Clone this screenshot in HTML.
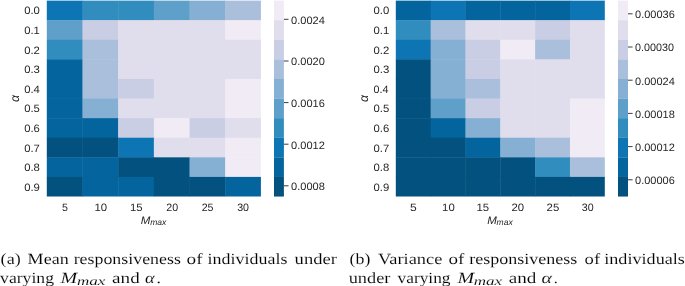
<!DOCTYPE html>
<html><head><meta charset="utf-8"><style>
html,body{margin:0;padding:0;background:#fff;}
body{width:685px;height:286px;overflow:hidden;position:relative;}
svg{position:absolute;left:0;top:0;will-change:transform;text-rendering:geometricPrecision;}
.t{font-family:"Liberation Sans",sans-serif;font-size:10.7px;fill:#262626;}
.it{font-style:italic;}
.al{font-size:12.4px;}
.sub{font-size:8.4px;}
.mm{font-size:10.9px;}
.c{font-family:"Liberation Serif",serif;font-size:15.6px;fill:#000;stroke:#fff;stroke-width:0.1px;}
.ci{font-style:italic;}
.cs{font-size:12px;}
</style></head><body>
<svg width="685" height="286" viewBox="0 0 685 286">
<rect x="46.80" y="0.60" width="36.08" height="19.99" fill="#0d75b3"/>
<rect x="82.48" y="0.60" width="36.08" height="19.99" fill="#328dbf"/>
<rect x="118.17" y="0.60" width="36.08" height="19.99" fill="#328dbf"/>
<rect x="153.85" y="0.60" width="36.08" height="19.99" fill="#5ea0ca"/>
<rect x="189.53" y="0.60" width="36.08" height="19.99" fill="#86b0d3"/>
<rect x="225.22" y="0.60" width="35.68" height="19.99" fill="#a9bfdc"/>
<rect x="46.80" y="20.19" width="36.08" height="19.99" fill="#5ea0ca"/>
<rect x="82.48" y="20.19" width="36.08" height="19.99" fill="#c9cee4"/>
<rect x="118.17" y="20.19" width="36.08" height="19.99" fill="#e0dded"/>
<rect x="153.85" y="20.19" width="36.08" height="19.99" fill="#e0dded"/>
<rect x="189.53" y="20.19" width="36.08" height="19.99" fill="#e0dded"/>
<rect x="225.22" y="20.19" width="35.68" height="19.99" fill="#f1ebf5"/>
<rect x="46.80" y="39.78" width="36.08" height="19.99" fill="#328dbf"/>
<rect x="82.48" y="39.78" width="36.08" height="19.99" fill="#a9bfdc"/>
<rect x="118.17" y="39.78" width="36.08" height="19.99" fill="#e0dded"/>
<rect x="153.85" y="39.78" width="36.08" height="19.99" fill="#e0dded"/>
<rect x="189.53" y="39.78" width="36.08" height="19.99" fill="#e0dded"/>
<rect x="225.22" y="39.78" width="35.68" height="19.99" fill="#e0dded"/>
<rect x="46.80" y="59.37" width="36.08" height="19.99" fill="#04649d"/>
<rect x="82.48" y="59.37" width="36.08" height="19.99" fill="#a9bfdc"/>
<rect x="118.17" y="59.37" width="36.08" height="19.99" fill="#e0dded"/>
<rect x="153.85" y="59.37" width="36.08" height="19.99" fill="#e0dded"/>
<rect x="189.53" y="59.37" width="36.08" height="19.99" fill="#e0dded"/>
<rect x="225.22" y="59.37" width="35.68" height="19.99" fill="#e0dded"/>
<rect x="46.80" y="78.96" width="36.08" height="19.99" fill="#04649d"/>
<rect x="82.48" y="78.96" width="36.08" height="19.99" fill="#a9bfdc"/>
<rect x="118.17" y="78.96" width="36.08" height="19.99" fill="#c9cee4"/>
<rect x="153.85" y="78.96" width="36.08" height="19.99" fill="#e0dded"/>
<rect x="189.53" y="78.96" width="36.08" height="19.99" fill="#e0dded"/>
<rect x="225.22" y="78.96" width="35.68" height="19.99" fill="#f1ebf5"/>
<rect x="46.80" y="98.55" width="36.08" height="19.99" fill="#04649d"/>
<rect x="82.48" y="98.55" width="36.08" height="19.99" fill="#86b0d3"/>
<rect x="118.17" y="98.55" width="36.08" height="19.99" fill="#e0dded"/>
<rect x="153.85" y="98.55" width="36.08" height="19.99" fill="#e0dded"/>
<rect x="189.53" y="98.55" width="36.08" height="19.99" fill="#e0dded"/>
<rect x="225.22" y="98.55" width="35.68" height="19.99" fill="#f1ebf5"/>
<rect x="46.80" y="118.14" width="36.08" height="19.99" fill="#04649d"/>
<rect x="82.48" y="118.14" width="36.08" height="19.99" fill="#04649d"/>
<rect x="118.17" y="118.14" width="36.08" height="19.99" fill="#c9cee4"/>
<rect x="153.85" y="118.14" width="36.08" height="19.99" fill="#f1ebf5"/>
<rect x="189.53" y="118.14" width="36.08" height="19.99" fill="#c9cee4"/>
<rect x="225.22" y="118.14" width="35.68" height="19.99" fill="#e0dded"/>
<rect x="46.80" y="137.73" width="36.08" height="19.99" fill="#03517e"/>
<rect x="82.48" y="137.73" width="36.08" height="19.99" fill="#03517e"/>
<rect x="118.17" y="137.73" width="36.08" height="19.99" fill="#0d75b3"/>
<rect x="153.85" y="137.73" width="36.08" height="19.99" fill="#e0dded"/>
<rect x="189.53" y="137.73" width="36.08" height="19.99" fill="#e0dded"/>
<rect x="225.22" y="137.73" width="35.68" height="19.99" fill="#f1ebf5"/>
<rect x="46.80" y="157.32" width="36.08" height="19.99" fill="#04649d"/>
<rect x="82.48" y="157.32" width="36.08" height="19.99" fill="#04649d"/>
<rect x="118.17" y="157.32" width="36.08" height="19.99" fill="#03517e"/>
<rect x="153.85" y="157.32" width="36.08" height="19.99" fill="#03517e"/>
<rect x="189.53" y="157.32" width="36.08" height="19.99" fill="#86b0d3"/>
<rect x="225.22" y="157.32" width="35.68" height="19.99" fill="#f1ebf5"/>
<rect x="46.80" y="176.91" width="36.08" height="19.59" fill="#03517e"/>
<rect x="82.48" y="176.91" width="36.08" height="19.59" fill="#04649d"/>
<rect x="118.17" y="176.91" width="36.08" height="19.59" fill="#04649d"/>
<rect x="153.85" y="176.91" width="36.08" height="19.59" fill="#03517e"/>
<rect x="189.53" y="176.91" width="36.08" height="19.59" fill="#03517e"/>
<rect x="225.22" y="176.91" width="35.68" height="19.59" fill="#04649d"/>
<text transform="translate(19.00,98.55) rotate(-90)" text-anchor="middle" class="t it al" y="0">α</text>
<rect x="274.0" y="0.60" width="9.90" height="19.64" fill="#f1ebf5"/>
<rect x="274.0" y="20.19" width="9.90" height="19.64" fill="#e0dded"/>
<rect x="274.0" y="39.78" width="9.90" height="19.64" fill="#c9cee4"/>
<rect x="274.0" y="59.37" width="9.90" height="19.64" fill="#a9bfdc"/>
<rect x="274.0" y="78.96" width="9.90" height="19.64" fill="#86b0d3"/>
<rect x="274.0" y="98.55" width="9.90" height="19.64" fill="#5ea0ca"/>
<rect x="274.0" y="118.14" width="9.90" height="19.64" fill="#328dbf"/>
<rect x="274.0" y="137.73" width="9.90" height="19.64" fill="#0d75b3"/>
<rect x="274.0" y="157.32" width="9.90" height="19.64" fill="#04649d"/>
<rect x="274.0" y="176.91" width="9.90" height="19.64" fill="#03517e"/>
<line x1="283.9" x2="288.5" y1="19.3" y2="19.3" stroke="#262626" stroke-width="0.9"/>
<line x1="283.9" x2="288.5" y1="61.0" y2="61.0" stroke="#262626" stroke-width="0.9"/>
<line x1="283.9" x2="288.5" y1="102.6" y2="102.6" stroke="#262626" stroke-width="0.9"/>
<line x1="283.9" x2="288.5" y1="144.2" y2="144.2" stroke="#262626" stroke-width="0.9"/>
<line x1="283.9" x2="288.5" y1="185.8" y2="185.8" stroke="#262626" stroke-width="0.9"/>
<rect x="395.80" y="0.60" width="35.23" height="19.99" fill="#04649d"/>
<rect x="430.63" y="0.60" width="35.23" height="19.99" fill="#0d75b3"/>
<rect x="465.47" y="0.60" width="35.23" height="19.99" fill="#04649d"/>
<rect x="500.30" y="0.60" width="35.23" height="19.99" fill="#04649d"/>
<rect x="535.13" y="0.60" width="35.23" height="19.99" fill="#04649d"/>
<rect x="569.97" y="0.60" width="34.83" height="19.99" fill="#0d75b3"/>
<rect x="395.80" y="20.19" width="35.23" height="19.99" fill="#328dbf"/>
<rect x="430.63" y="20.19" width="35.23" height="19.99" fill="#a9bfdc"/>
<rect x="465.47" y="20.19" width="35.23" height="19.99" fill="#e0dded"/>
<rect x="500.30" y="20.19" width="35.23" height="19.99" fill="#e0dded"/>
<rect x="535.13" y="20.19" width="35.23" height="19.99" fill="#c9cee4"/>
<rect x="569.97" y="20.19" width="34.83" height="19.99" fill="#e0dded"/>
<rect x="395.80" y="39.78" width="35.23" height="19.99" fill="#0d75b3"/>
<rect x="430.63" y="39.78" width="35.23" height="19.99" fill="#86b0d3"/>
<rect x="465.47" y="39.78" width="35.23" height="19.99" fill="#c9cee4"/>
<rect x="500.30" y="39.78" width="35.23" height="19.99" fill="#f1ebf5"/>
<rect x="535.13" y="39.78" width="35.23" height="19.99" fill="#a9bfdc"/>
<rect x="569.97" y="39.78" width="34.83" height="19.99" fill="#e0dded"/>
<rect x="395.80" y="59.37" width="35.23" height="19.99" fill="#03517e"/>
<rect x="430.63" y="59.37" width="35.23" height="19.99" fill="#86b0d3"/>
<rect x="465.47" y="59.37" width="35.23" height="19.99" fill="#c9cee4"/>
<rect x="500.30" y="59.37" width="35.23" height="19.99" fill="#e0dded"/>
<rect x="535.13" y="59.37" width="35.23" height="19.99" fill="#e0dded"/>
<rect x="569.97" y="59.37" width="34.83" height="19.99" fill="#e0dded"/>
<rect x="395.80" y="78.96" width="35.23" height="19.99" fill="#03517e"/>
<rect x="430.63" y="78.96" width="35.23" height="19.99" fill="#86b0d3"/>
<rect x="465.47" y="78.96" width="35.23" height="19.99" fill="#a9bfdc"/>
<rect x="500.30" y="78.96" width="35.23" height="19.99" fill="#e0dded"/>
<rect x="535.13" y="78.96" width="35.23" height="19.99" fill="#e0dded"/>
<rect x="569.97" y="78.96" width="34.83" height="19.99" fill="#e0dded"/>
<rect x="395.80" y="98.55" width="35.23" height="19.99" fill="#03517e"/>
<rect x="430.63" y="98.55" width="35.23" height="19.99" fill="#5ea0ca"/>
<rect x="465.47" y="98.55" width="35.23" height="19.99" fill="#c9cee4"/>
<rect x="500.30" y="98.55" width="35.23" height="19.99" fill="#e0dded"/>
<rect x="535.13" y="98.55" width="35.23" height="19.99" fill="#e0dded"/>
<rect x="569.97" y="98.55" width="34.83" height="19.99" fill="#f1ebf5"/>
<rect x="395.80" y="118.14" width="35.23" height="19.99" fill="#03517e"/>
<rect x="430.63" y="118.14" width="35.23" height="19.99" fill="#04649d"/>
<rect x="465.47" y="118.14" width="35.23" height="19.99" fill="#86b0d3"/>
<rect x="500.30" y="118.14" width="35.23" height="19.99" fill="#e0dded"/>
<rect x="535.13" y="118.14" width="35.23" height="19.99" fill="#e0dded"/>
<rect x="569.97" y="118.14" width="34.83" height="19.99" fill="#f1ebf5"/>
<rect x="395.80" y="137.73" width="35.23" height="19.99" fill="#03517e"/>
<rect x="430.63" y="137.73" width="35.23" height="19.99" fill="#03517e"/>
<rect x="465.47" y="137.73" width="35.23" height="19.99" fill="#04649d"/>
<rect x="500.30" y="137.73" width="35.23" height="19.99" fill="#86b0d3"/>
<rect x="535.13" y="137.73" width="35.23" height="19.99" fill="#a9bfdc"/>
<rect x="569.97" y="137.73" width="34.83" height="19.99" fill="#f1ebf5"/>
<rect x="395.80" y="157.32" width="35.23" height="19.99" fill="#03517e"/>
<rect x="430.63" y="157.32" width="35.23" height="19.99" fill="#03517e"/>
<rect x="465.47" y="157.32" width="35.23" height="19.99" fill="#03517e"/>
<rect x="500.30" y="157.32" width="35.23" height="19.99" fill="#03517e"/>
<rect x="535.13" y="157.32" width="35.23" height="19.99" fill="#328dbf"/>
<rect x="569.97" y="157.32" width="34.83" height="19.99" fill="#a9bfdc"/>
<rect x="395.80" y="176.91" width="35.23" height="19.59" fill="#03517e"/>
<rect x="430.63" y="176.91" width="35.23" height="19.59" fill="#03517e"/>
<rect x="465.47" y="176.91" width="35.23" height="19.59" fill="#03517e"/>
<rect x="500.30" y="176.91" width="35.23" height="19.59" fill="#03517e"/>
<rect x="535.13" y="176.91" width="35.23" height="19.59" fill="#03517e"/>
<rect x="569.97" y="176.91" width="34.83" height="19.59" fill="#03517e"/>
<text transform="translate(368.00,98.55) rotate(-90)" text-anchor="middle" class="t it al" y="0">α</text>
<rect x="618.0" y="0.60" width="10.00" height="19.64" fill="#f1ebf5"/>
<rect x="618.0" y="20.19" width="10.00" height="19.64" fill="#e0dded"/>
<rect x="618.0" y="39.78" width="10.00" height="19.64" fill="#c9cee4"/>
<rect x="618.0" y="59.37" width="10.00" height="19.64" fill="#a9bfdc"/>
<rect x="618.0" y="78.96" width="10.00" height="19.64" fill="#86b0d3"/>
<rect x="618.0" y="98.55" width="10.00" height="19.64" fill="#5ea0ca"/>
<rect x="618.0" y="118.14" width="10.00" height="19.64" fill="#328dbf"/>
<rect x="618.0" y="137.73" width="10.00" height="19.64" fill="#0d75b3"/>
<rect x="618.0" y="157.32" width="10.00" height="19.64" fill="#04649d"/>
<rect x="618.0" y="176.91" width="10.00" height="19.64" fill="#03517e"/>
<line x1="628.0" x2="632.6" y1="13.8" y2="13.8" stroke="#262626" stroke-width="0.9"/>
<line x1="628.0" x2="632.6" y1="47.0" y2="47.0" stroke="#262626" stroke-width="0.9"/>
<line x1="628.0" x2="632.6" y1="80.2" y2="80.2" stroke="#262626" stroke-width="0.9"/>
<line x1="628.0" x2="632.6" y1="113.4" y2="113.4" stroke="#262626" stroke-width="0.9"/>
<line x1="628.0" x2="632.6" y1="146.6" y2="146.6" stroke="#262626" stroke-width="0.9"/>
<line x1="628.0" x2="632.6" y1="179.8" y2="179.8" stroke="#262626" stroke-width="0.9"/>
<text class="c" x="0.64" y="263.60" textLength="20.14" lengthAdjust="spacingAndGlyphs">(a)</text>
<text class="c" x="27.60" y="263.60" textLength="41.10" lengthAdjust="spacingAndGlyphs">Mean</text>
<text class="c" x="73.68" y="263.60" textLength="107.18" lengthAdjust="spacingAndGlyphs">responsiveness</text>
<text class="c" x="186.60" y="263.60" textLength="16.00" lengthAdjust="spacingAndGlyphs">of</text>
<text class="c" x="207.60" y="263.60" textLength="79.80" lengthAdjust="spacingAndGlyphs">individuals</text>
<text class="c" x="294.60" y="263.60" textLength="42.38" lengthAdjust="spacingAndGlyphs">under</text>
<text class="c" x="349.60" y="263.60" textLength="20.76" lengthAdjust="spacingAndGlyphs">(b)</text>
<text class="c" x="378.10" y="263.60" textLength="64.26" lengthAdjust="spacingAndGlyphs">Variance</text>
<text class="c" x="448.64" y="263.60" textLength="15.84" lengthAdjust="spacingAndGlyphs">of</text>
<text class="c" x="469.26" y="263.60" textLength="108.14" lengthAdjust="spacingAndGlyphs">responsiveness</text>
<text class="c" x="584.60" y="263.60" textLength="15.50" lengthAdjust="spacingAndGlyphs">of</text>
<text class="c" x="604.26" y="263.60" textLength="80.60" lengthAdjust="spacingAndGlyphs">individuals</text>
<text class="c" x="0.14" y="282.60" textLength="53.84" lengthAdjust="spacingAndGlyphs">varying</text>
<text class="c ci" x="60.50" y="282.60" textLength="16.70" lengthAdjust="spacingAndGlyphs">M</text>
<text class="c ci cs" x="76.90" y="284.80" textLength="28.40" lengthAdjust="spacingAndGlyphs">max</text>
<text class="c" x="112.14" y="282.60" textLength="27.64" lengthAdjust="spacingAndGlyphs">and</text>
<text class="c ci" x="145.02" y="282.60" textLength="9.58" lengthAdjust="spacingAndGlyphs">α</text>
<text class="c" x="156.30" y="282.60" textLength="4.90" lengthAdjust="spacingAndGlyphs">.</text>
<text class="c" x="397.52" y="282.60" textLength="53.04" lengthAdjust="spacingAndGlyphs">varying</text>
<text class="c ci" x="457.40" y="282.60" textLength="16.70" lengthAdjust="spacingAndGlyphs">M</text>
<text class="c ci cs" x="473.80" y="284.80" textLength="28.40" lengthAdjust="spacingAndGlyphs">max</text>
<text class="c" x="508.72" y="282.60" textLength="27.64" lengthAdjust="spacingAndGlyphs">and</text>
<text class="c ci" x="541.60" y="282.60" textLength="10.38" lengthAdjust="spacingAndGlyphs">α</text>
<text class="c" x="553.68" y="282.60" textLength="4.10" lengthAdjust="spacingAndGlyphs">.</text>
<text class="c" x="348.68" y="282.60" textLength="41.76" lengthAdjust="spacingAndGlyphs">under</text>
<text class="t" x="24.18" y="14.49" textLength="15.72" lengthAdjust="spacingAndGlyphs">0.0</text>
<text class="t" x="24.18" y="34.09" textLength="15.72" lengthAdjust="spacingAndGlyphs">0.1</text>
<text class="t" x="24.18" y="53.68" textLength="15.72" lengthAdjust="spacingAndGlyphs">0.2</text>
<text class="t" x="24.18" y="73.26" textLength="15.72" lengthAdjust="spacingAndGlyphs">0.3</text>
<text class="t" x="24.18" y="92.85" textLength="15.72" lengthAdjust="spacingAndGlyphs">0.4</text>
<text class="t" x="24.18" y="112.44" textLength="15.72" lengthAdjust="spacingAndGlyphs">0.5</text>
<text class="t" x="24.18" y="132.03" textLength="15.72" lengthAdjust="spacingAndGlyphs">0.6</text>
<text class="t" x="24.18" y="151.62" textLength="15.72" lengthAdjust="spacingAndGlyphs">0.7</text>
<text class="t" x="24.18" y="171.21" textLength="15.72" lengthAdjust="spacingAndGlyphs">0.8</text>
<text class="t" x="24.18" y="190.80" textLength="15.72" lengthAdjust="spacingAndGlyphs">0.9</text>
<text class="t" x="61.98" y="211.40" textLength="5.92" lengthAdjust="spacingAndGlyphs">5</text>
<text class="t" x="94.48" y="211.40" textLength="12.64" lengthAdjust="spacingAndGlyphs">10</text>
<text class="t" x="129.96" y="211.40" textLength="12.64" lengthAdjust="spacingAndGlyphs">15</text>
<text class="t" x="166.23" y="211.40" textLength="11.84" lengthAdjust="spacingAndGlyphs">20</text>
<text class="t" x="201.70" y="211.40" textLength="11.84" lengthAdjust="spacingAndGlyphs">25</text>
<text class="t" x="237.17" y="211.40" textLength="11.84" lengthAdjust="spacingAndGlyphs">30</text>
<text class="t it mm" x="140.75" y="223.70" textLength="9.60" lengthAdjust="spacingAndGlyphs">M</text>
<text class="t it sub" x="150.15" y="225.30" textLength="16.10" lengthAdjust="spacingAndGlyphs">max</text>
<text class="t" x="291.10" y="23.60" textLength="33.76" lengthAdjust="spacingAndGlyphs">0.0024</text>
<text class="t" x="291.10" y="65.30" textLength="33.76" lengthAdjust="spacingAndGlyphs">0.0020</text>
<text class="t" x="291.10" y="106.90" textLength="33.76" lengthAdjust="spacingAndGlyphs">0.0016</text>
<text class="t" x="291.10" y="148.50" textLength="33.76" lengthAdjust="spacingAndGlyphs">0.0012</text>
<text class="t" x="291.10" y="190.10" textLength="33.76" lengthAdjust="spacingAndGlyphs">0.0008</text>
<text class="t" x="373.56" y="14.49" textLength="15.72" lengthAdjust="spacingAndGlyphs">0.0</text>
<text class="t" x="373.56" y="34.09" textLength="15.72" lengthAdjust="spacingAndGlyphs">0.1</text>
<text class="t" x="373.56" y="53.68" textLength="15.72" lengthAdjust="spacingAndGlyphs">0.2</text>
<text class="t" x="373.56" y="73.26" textLength="15.72" lengthAdjust="spacingAndGlyphs">0.3</text>
<text class="t" x="373.56" y="92.85" textLength="14.92" lengthAdjust="spacingAndGlyphs">0.4</text>
<text class="t" x="373.56" y="112.44" textLength="15.72" lengthAdjust="spacingAndGlyphs">0.5</text>
<text class="t" x="373.56" y="132.03" textLength="15.72" lengthAdjust="spacingAndGlyphs">0.6</text>
<text class="t" x="373.56" y="151.62" textLength="15.72" lengthAdjust="spacingAndGlyphs">0.7</text>
<text class="t" x="373.56" y="171.21" textLength="15.72" lengthAdjust="spacingAndGlyphs">0.8</text>
<text class="t" x="373.56" y="190.80" textLength="15.72" lengthAdjust="spacingAndGlyphs">0.9</text>
<text class="t" x="409.99" y="211.40" textLength="6.72" lengthAdjust="spacingAndGlyphs">5</text>
<text class="t" x="442.13" y="211.40" textLength="12.64" lengthAdjust="spacingAndGlyphs">10</text>
<text class="t" x="476.43" y="211.40" textLength="12.64" lengthAdjust="spacingAndGlyphs">15</text>
<text class="t" x="511.53" y="211.40" textLength="12.64" lengthAdjust="spacingAndGlyphs">20</text>
<text class="t" x="546.63" y="211.40" textLength="12.64" lengthAdjust="spacingAndGlyphs">25</text>
<text class="t" x="581.73" y="211.40" textLength="11.84" lengthAdjust="spacingAndGlyphs">30</text>
<text class="t it mm" x="487.20" y="223.70" textLength="9.60" lengthAdjust="spacingAndGlyphs">M</text>
<text class="t it sub" x="496.60" y="225.30" textLength="16.10" lengthAdjust="spacingAndGlyphs">max</text>
<text class="t" x="635.02" y="18.10" textLength="39.76" lengthAdjust="spacingAndGlyphs">0.00036</text>
<text class="t" x="635.02" y="51.30" textLength="38.96" lengthAdjust="spacingAndGlyphs">0.00030</text>
<text class="t" x="635.02" y="84.50" textLength="39.76" lengthAdjust="spacingAndGlyphs">0.00024</text>
<text class="t" x="635.02" y="117.70" textLength="39.76" lengthAdjust="spacingAndGlyphs">0.00018</text>
<text class="t" x="635.02" y="150.90" textLength="39.76" lengthAdjust="spacingAndGlyphs">0.00012</text>
<text class="t" x="635.02" y="184.10" textLength="39.76" lengthAdjust="spacingAndGlyphs">0.00006</text>
</svg>
</body></html>
